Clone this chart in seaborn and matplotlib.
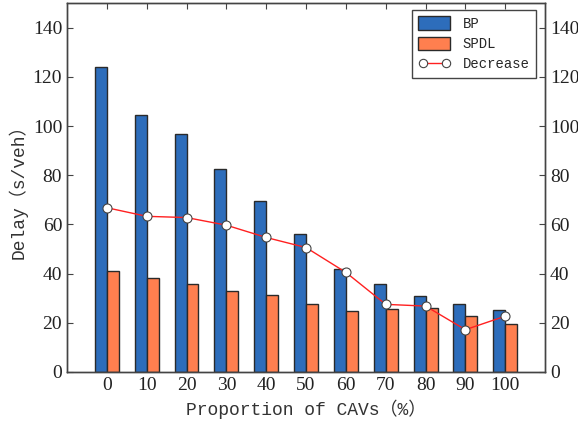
import numpy as np
import pandas as pd
import matplotlib
matplotlib.use("Agg")
import matplotlib.pyplot as plt
import seaborn as sns
from matplotlib.lines import Line2D
from matplotlib.patches import Patch

# Delay by CAV penetration rate
proportion = ["0", "10", "20", "30", "40", "50", "60", "70", "80", "90", "100"]
bp_delay = [124.2, 104.6, 96.6, 82.5, 69.4, 56.3, 41.7, 35.6, 31.1, 27.5, 25.4]
spdl_delay = [41.1, 38.1, 35.8, 33.1, 31.4, 27.6, 24.6, 25.7, 26.0, 22.6, 19.5]
decrease = [66.8, 63.3, 62.8, 59.7, 54.7, 50.6, 40.5, 27.5, 26.8, 17.2, 22.7]
y_ticks = [0, 20, 40, 60, 80, 100, 120, 140]

sns.set_theme(style="white")
plt.rcParams["font.family"] = ["Liberation Serif", "DejaVu Serif"]

blue = "#2D6DBB"
orange = "#FF7F4F"
edge = "#2a2a2a"
label_font = ["Liberation Mono", "Noto Sans CJK SC"]

df = pd.DataFrame({
    "proportion": proportion * 2,
    "delay": bp_delay + spdl_delay,
    "method": ["BP"] * len(proportion) + ["SPDL"] * len(proportion),
})

fig = plt.figure(figsize=(5.78, 4.23), dpi=100)
ax = fig.add_axes([0.116, 0.1206, 0.827, 0.872])

sns.barplot(data=df, x="proportion", y="delay", hue="method",
            palette=[blue, orange], width=0.6, gap=0, dodge=True,
            edgecolor=edge, linewidth=1.0, saturation=1, legend=False, ax=ax)

ax.set_xlim(-1, len(proportion))
ax.set_ylim(0, 150)
ax.set_yticks(y_ticks)
ax.set_xlabel("Proportion of CAVs（%）", family=label_font, fontsize=13, color="#333333")
ax.set_ylabel("Delay（s/veh）", family=label_font, fontsize=13, color="#333333")

ax2 = ax.twinx()
sns.lineplot(x=np.arange(len(decrease)), y=decrease, ax=ax2, color="#ff2020",
             linewidth=1.0, marker="o", markersize=6.5, markerfacecolor="white",
             markeredgecolor="#444444", markeredgewidth=0.8)
ax2.set_ylim(0, 150)
ax2.set_yticks(y_ticks)
ax2.set_xlim(-1, len(proportion))

for a in (ax, ax2):
    for s in a.spines.values():
        s.set_color("#444444")
        s.set_linewidth(1.0)
    a.tick_params(direction="in", length=4, width=0.8, color="#444444",
                  labelsize=14, labelcolor="#222222")
ax.tick_params(axis="x", top=True, bottom=True)
ax.tick_params(axis="y", left=True, right=False)
ax2.tick_params(axis="y", right=True, left=False)

handles = [
    Patch(facecolor=blue, edgecolor=edge, linewidth=1.0, label="BP"),
    Patch(facecolor=orange, edgecolor=edge, linewidth=1.0, label="SPDL"),
    Line2D([0], [0], color="#ff2020", linewidth=1.0, marker="o", markersize=6,
           markerfacecolor="white", markeredgecolor="#444444",
           markeredgewidth=0.8, label="Decrease"),
]
leg = ax2.legend(handles=handles, loc="upper right", bbox_to_anchor=(0.99, 0.992),
                 prop={"family": label_font, "size": 10}, frameon=True,
                 fancybox=False, framealpha=1, edgecolor="#444444",
                 numpoints=2, handlelength=2.3, handleheight=1.15, borderpad=0.45,
                 labelspacing=0.4, handletextpad=0.9, borderaxespad=0.3)
leg.get_frame().set_linewidth(1.0)

fig.savefig("out.png", dpi=100)
